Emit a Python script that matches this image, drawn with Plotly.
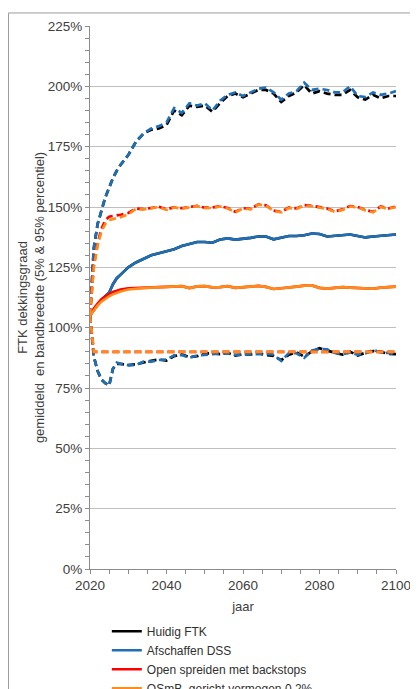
import plotly.graph_objects as go

YEARS = [2020, 2021, 2022, 2023, 2024, 2025, 2026, 2027, 2028,
         2030, 2032, 2034, 2036, 2038, 2040, 2042, 2044, 2046, 2048, 2050,
         2052, 2054, 2056, 2058, 2060, 2062, 2064, 2066, 2068, 2070,
         2072, 2074, 2076, 2078, 2080, 2082, 2084, 2086, 2088, 2090,
         2092, 2094, 2096, 2098, 2100]

# Huidig FTK (black)
ftk_med = [105, 107.5, 109.5, 111.5, 113, 114.5, 118, 120.5, 122,
           125, 127, 128.5, 130, 130.8, 131.5, 132.5, 133.8, 134.5, 135.5, 135.5,
           135.2, 136.5, 137, 136.5, 136.8, 137.2, 137.8, 137.8, 136.6, 137.3,
           138, 138, 138.3, 139, 138.8, 137.8, 138, 138.2, 138.6, 138,
           137.4, 137.8, 138, 138.3, 138.6]
ftk_p95 = [105, 133, 143, 149, 154, 158, 162, 165, 167.5,
           171.5, 177, 180.5, 182, 182.5, 184, 190, 188, 192, 191.5, 192,
           189.5, 193, 196, 197, 195.5, 197, 198.5, 198.5, 197, 193.5,
           196, 197.5, 200.5, 197, 198, 197, 196.5, 196.5, 198.5, 195.5,
           194.5, 196.5, 195, 196, 196]
ftk_p5 = [105, 88, 82, 78.5, 77, 76, 83, 85, 85,
          84.5, 84.8, 85.7, 86.3, 86.8, 86.4, 88.2, 88.9, 87.8, 88.2, 89.2,
          89.4, 89.0, 89.5, 88.4, 89.0, 88.9, 89.4, 88.7, 88.3, 86.5,
          88.8, 89.8, 88.0, 90.2, 91.5, 90.5, 89.8, 88.8, 90.0, 88.5,
          89.6, 90.3, 90.0, 89.2, 89.0]

# Afschaffen DSS (blue)
dss_med = [105, 107.5, 109.5, 111.5, 113, 114.5, 118, 120.5, 122,
           125, 127, 128.5, 130, 130.8, 131.5, 132.5, 133.8, 134.5, 135.5, 135.5,
           135.2, 136.5, 137, 136.5, 136.8, 137.2, 137.8, 137.8, 136.6, 137.3,
           138, 138, 138.3, 139, 138.8, 137.8, 138, 138.2, 138.6, 138,
           137.4, 137.8, 138, 138.3, 138.6]
dss_p95 = [105, 133, 143, 149, 154, 158, 162, 165, 167.5,
           171.5, 177, 180.5, 182.5, 183.5, 185, 191, 189, 193, 192, 193,
           190, 194, 196.5, 197.5, 196, 197.5, 199, 199.5, 197.5, 194.5,
           197, 198, 201.5, 198.5, 199, 198.5, 197.5, 197.5, 200, 196,
           195.5, 197.5, 196.5, 197, 198]
dss_p5 = [105, 88, 82, 78.5, 77, 76, 83, 85.5, 85,
          84.5, 84.5, 85.9, 85.9, 86.6, 86.8, 88.5, 88.7, 87.5, 88.5, 88.9,
          89.0, 89.3, 89.3, 88.7, 88.7, 89.2, 89.0, 89.2, 88.8, 86.2,
          89.5, 89.4, 87.5, 90.5, 91.2, 91.0, 89.5, 89.0, 89.6, 88.8,
          89.3, 90.8, 89.8, 89.5, 88.8]

# Open spreiden met backstops (red)
osb_med = [105, 108, 110, 111.8, 113, 114, 114.8, 115.3, 115.8,
           116.3, 116.5, 116.6, 116.7, 116.8, 116.9, 117.1, 117.2, 116.4, 117.1, 117.2,
           116.7, 116.8, 117.2, 116.5, 116.7, 116.9, 117.3, 116.9, 116.0, 116.3,
           116.8, 117.0, 117.4, 117.5, 116.5, 116.2, 116.5, 116.8, 116.6, 116.4,
           116.3, 116.1, 116.6, 116.8, 117.0]
osb_p95 = [105, 126, 135, 141, 144.5, 146, 146.3, 146.5, 146.8,
           147.5, 149.4, 149.1, 149.5, 150.1, 149.0, 149.9, 149.5, 150.1, 150.5, 149.7,
           149.8, 150.3, 149.6, 148.0, 149.5, 149.2, 151.1, 150.7, 148.5, 148.0,
           149.8, 149.4, 150.8, 150.5, 150.0, 149.4, 148.2, 149.0, 150.4, 150.0,
           148.8, 148.0, 150.2, 149.4, 150.2]
osb_p5 = [105, 90, 90, 90, 90, 90, 90, 90, 90,
          90, 90, 90, 90, 90, 90, 90, 90, 90, 90, 90,
          90, 90, 90, 90, 90, 90, 90, 90, 90, 90,
          90, 90, 90, 90, 90, 90, 90, 90, 90, 90,
          90, 90, 90, 90, 90]

# OSmB, gericht vermogen 0.2% (orange)
osm_med = [105, 107.3, 109.2, 110.8, 112, 113, 113.8, 114.5, 115,
           115.8, 116.2, 116.4, 116.6, 116.8, 116.9, 117.1, 117.2, 116.4, 117.1, 117.2,
           116.7, 116.8, 117.2, 116.5, 116.7, 116.9, 117.3, 116.9, 116.0, 116.3,
           116.8, 117.0, 117.4, 117.5, 116.5, 116.2, 116.5, 116.8, 116.6, 116.4,
           116.3, 116.1, 116.6, 116.8, 117.0]
osm_p95 = [105, 125, 134, 140, 143, 144.5, 145, 145.3, 145.8,
           147, 149.2, 149, 149.4, 150, 148.8, 149.8, 149.3, 150, 150.4, 149.5,
           149.6, 150.2, 149.4, 147.8, 149.4, 149, 151, 150.6, 148.3, 147.8,
           149.6, 149.2, 150.6, 150.3, 149.8, 149.2, 148, 148.8, 150.2, 149.8,
           148.6, 147.8, 150, 149.2, 150]
osm_p5 = [105, 90, 90, 90, 90, 90, 90, 90, 90,
          90, 90, 90, 90, 90, 90, 90, 90, 90, 90, 90,
          90, 90, 90, 90, 90, 90, 90, 90, 90, 90,
          90, 90, 90, 90, 90, 90, 90, 90, 90, 90,
          90, 90, 90, 90, 90]

SERIES = [
    ("Huidig FTK", "#000000", ftk_med, ftk_p95, ftk_p5),
    ("Afschaffen DSS", "#1F6FB5", dss_med, dss_p95, dss_p5),
    ("Open spreiden met backstops", "#FF0000", osb_med, osb_p95, osb_p5),
    ("OSmB, gericht vermogen 0.2%", "#FF8C1A", osm_med, osm_p95, osm_p5),
]

Y_TICKS = [0, 25, 50, 75, 100, 125, 150, 175, 200, 225]
Y_TICK_LABELS = ["0%", "25%", "50%", "75%", "100%", "125%", "150%", "175%", "200%", "225%"]
X_TICKS = [2020, 2040, 2060, 2080, 2100]
X_TICK_LABELS = ["2020", "2040", "2060", "2080", "2100"]

FONT = "Liberation Sans, Arial, sans-serif"
DASH = "7px,4px"

fig = go.Figure()
for name, color, med, p95, p5 in SERIES:
    fig.add_trace(go.Scatter(x=YEARS, y=p95, mode="lines", legendgroup=name,
                             showlegend=False, hoverinfo="skip",
                             line=dict(color=color, width=2.7, dash=DASH)))
    fig.add_trace(go.Scatter(x=YEARS, y=p5, mode="lines", legendgroup=name,
                             showlegend=False, hoverinfo="skip",
                             line=dict(color=color, width=2.7, dash=DASH)))
    fig.add_trace(go.Scatter(x=YEARS, y=med, mode="lines", name=name,
                             legendgroup=name,
                             line=dict(color=color, width=2.6)))

fig.update_layout(
    width=410, height=681,
    margin=dict(l=82, r=22, t=18, b=120, autoexpand=False),
    paper_bgcolor="white", plot_bgcolor="white",
    font=dict(family=FONT, size=13, color="#404040"),
    showlegend=True,
    legend=dict(x=0.055, y=-0.088, xanchor="left", yanchor="top",
                font=dict(family=FONT, size=12, color="#303030"),
                bgcolor="rgba(0,0,0,0)", tracegroupgap=0, itemwidth=30),
    shapes=[dict(type="rect", xref="paper", yref="paper",
                 x0=-0.2665, x1=1.2, y0=-0.3, y1=1.024,
                 line=dict(color="#9a9a9a", width=1), fillcolor="rgba(0,0,0,0)",
                 layer="below")],
)

fig.update_xaxes(
    range=[2020, 2100], tickmode="array", tickvals=X_TICKS, ticktext=X_TICK_LABELS,
    showgrid=False, automargin=False,
    showline=True, linecolor="#8c8c8c", linewidth=1,
    ticks="outside", ticklen=4, tickcolor="#8c8c8c",
    minor=dict(dtick=5, ticks="outside", ticklen=4, tickcolor="#8c8c8c", showgrid=False),
    tickfont=dict(size=13.5, color="#404040"),
    title=dict(text="jaar", font=dict(size=13, color="#404040"), standoff=9),
    zeroline=False,
)
fig.update_yaxes(
    range=[0, 225], tickmode="array", tickvals=Y_TICKS, ticktext=Y_TICK_LABELS,
    showgrid=True, gridcolor="#bfbfbf", gridwidth=1, automargin=False,
    showline=True, linecolor="#8c8c8c", linewidth=1,
    ticks="outside", ticklen=4, tickcolor="#8c8c8c",
    minor=dict(dtick=5, ticks="outside", ticklen=4, tickcolor="#8c8c8c", showgrid=False),
    tickfont=dict(size=13.5, color="#404040"),
    title=dict(text="FTK dekkingsgraad<br>gemiddeld  en bandbreedte (5% & 95% percentiel)",
               font=dict(size=13, color="#404040"), standoff=0),
    zeroline=False,
)

fig.write_html("out.html")
